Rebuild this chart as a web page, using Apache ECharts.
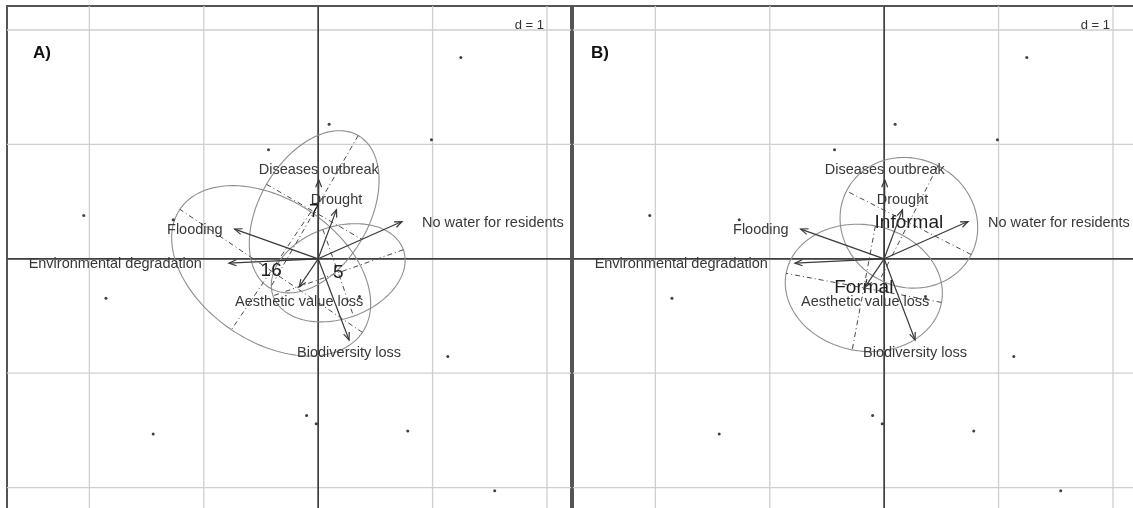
<!DOCTYPE html>
<html>
<head>
<meta charset="utf-8">
<script src="https://cdn.jsdelivr.net/npm/echarts@6/dist/echarts.min.js"></script>
<style>
  html, body { margin: 0; padding: 0; background: #ffffff; }
  #chart { width: 1133px; height: 508px; }
</style>
</head>
<body>
<div id="chart"></div>
<script>
// ---------------- data ----------------
const gridTicks = [-2, -1, 0, 1, 2];

const variableNames = ['Diseases outbreak', 'Drought', 'No water for residents', 'Flooding',
  'Environmental degradation', 'Aesthetic value loss', 'Biodiversity loss'];
const variableX = [0.005, 0.16, 0.733, -0.73, -0.78, -0.166, 0.27];
const variableY = [0.69, 0.43, 0.326, 0.26, -0.038, -0.245, -0.71];

const siteX = [1.247, 0.096, -0.434, 0.990, -2.049, -1.855, 1.133, -0.101, -0.017, -1.442, 0.783, 1.543, -1.267, 0.361];
const siteY = [1.760, 1.177, 0.953, 1.040, 0.378, -0.344, -0.854, -1.370, -1.442, -1.532, -1.506, -2.028, 0.341, -0.330];

// panel A groups: centre, semi-axes, orientation of the major axis (degrees)
const groupsA = ['16', '5', '7'];
const groupsA_cx = [-0.411, 0.175, -0.035];
const groupsA_cy = [-0.105, -0.122, 0.411];
const groupsA_a = [0.962, 0.604, 0.770];
const groupsA_b = [0.621, 0.402, 0.481];
const groupsA_angle = [-34, 19.5, 60];

// panel B groups
const groupsB = ['Informal', 'Formal'];
const groupsB_cx = [0.216, -0.178];
const groupsB_cy = [0.315, -0.254];
const groupsB_a = [0.612, 0.691];
const groupsB_b = [0.560, 0.551];
const groupsB_angle = [-27, -10.6];

const panelTitles = ['A)', 'B)'];
const scaleLabel = 'd = 1';

// ---------------- layout ----------------
const UNIT = 114.4;                       // pixels per unit on both axes
const AX_MIN = -2.72, AX_MAX = 2.21;
const PANEL_W = 564;
const PANEL_H = 504;                      // the panels run past the bottom edge of the page
const Y_MIN = AX_MAX - PANEL_H / UNIT;
const panelLeft = [7, 573];
const panelTop = 6;
const titleLeft = [33, 591];
const labelGap = [10, 10, 20, 12, 27, 15, 13];   // distance of each variable label from its arrow tip (px)
const FONT = "'Liberation Sans', Arial, sans-serif";

const chart = echarts.init(document.getElementById('chart'), null, { renderer: 'canvas' });

function gridRender(params, api) {
  const t = api.value(0);
  const cs = params.coordSys;
  const v0 = api.coord([t, AX_MAX]);
  const h0 = api.coord([AX_MIN, t]);
  return {
    type: 'group',
    children: [
      { type: 'line', shape: { x1: v0[0], y1: cs.y, x2: v0[0], y2: cs.y + cs.height },
        style: { stroke: '#cfcfcf', lineWidth: 1.3 } },
      { type: 'line', shape: { x1: cs.x, y1: h0[1], x2: cs.x + cs.width, y2: h0[1] },
        style: { stroke: '#cfcfcf', lineWidth: 1.3 } }
    ]
  };
}

function axesRender(params, api) {
  const cs = params.coordSys;
  const o = api.coord([0, 0]);
  return {
    type: 'group',
    children: [
      { type: 'line', shape: { x1: o[0], y1: cs.y, x2: o[0], y2: cs.y + cs.height },
        style: { stroke: '#404040', lineWidth: 1.7 } },
      { type: 'line', shape: { x1: cs.x, y1: o[1], x2: cs.x + cs.width, y2: o[1] },
        style: { stroke: '#404040', lineWidth: 1.7 } }
    ]
  };
}

function makeEllipseRender(names) {
  return function (params, api) {
    const cx = api.value(0), cy = api.value(1), a = api.value(2), b = api.value(3);
    const ang = api.value(4) * Math.PI / 180;
    const ca = Math.cos(ang), sa = Math.sin(ang);
    const pts = [];
    for (let k = 0; k <= 160; k++) {
      const t = k / 160 * 2 * Math.PI;
      const ex = a * Math.cos(t), ey = b * Math.sin(t);
      pts.push(api.coord([cx + ex * ca - ey * sa, cy + ex * sa + ey * ca]));
    }
    const m1 = api.coord([cx + a * ca, cy + a * sa]);
    const m2 = api.coord([cx - a * ca, cy - a * sa]);
    const n1 = api.coord([cx - b * sa, cy + b * ca]);
    const n2 = api.coord([cx + b * sa, cy - b * ca]);
    const c = api.coord([cx, cy]);
    const dash = { stroke: '#4a4a4a', lineWidth: 1, lineDash: [5, 3, 1, 3] };
    return {
      type: 'group',
      children: [
        { type: 'polyline', shape: { points: pts }, style: { stroke: '#8e8e8e', lineWidth: 1.1, fill: null } },
        { type: 'line', shape: { x1: m1[0], y1: m1[1], x2: m2[0], y2: m2[1] }, style: dash },
        { type: 'line', shape: { x1: n1[0], y1: n1[1], x2: n2[0], y2: n2[1] }, style: dash },
        { type: 'text', z2: 10, style: { text: names[params.dataIndex], x: c[0], y: c[1],
          align: 'center', verticalAlign: 'middle', fontSize: 19, fontFamily: FONT, fill: '#1e1e1e' } }
      ]
    };
  };
}

function arrowRender(params, api) {
  const i = params.dataIndex;
  const o = api.coord([0, 0]);
  const p = api.coord([api.value(0), api.value(1)]);
  const dx = p[0] - o[0], dy = p[1] - o[1];
  const len = Math.hypot(dx, dy);
  const ux = dx / len, uy = dy / len;
  const hl = 8, ha = 22 * Math.PI / 180;
  const c = Math.cos(ha), s = Math.sin(ha);
  const h1 = [p[0] - hl * (ux * c - uy * s), p[1] - hl * (ux * s + uy * c)];
  const h2 = [p[0] - hl * (ux * c + uy * s), p[1] - hl * (-ux * s + uy * c)];
  const gap = labelGap[i];
  let tx, ty, align;
  if (Math.abs(dx) >= Math.abs(dy)) {
    align = dx > 0 ? 'left' : 'right';
    tx = p[0] + (dx > 0 ? gap : -gap);
    ty = p[1] + 1;
  } else {
    align = 'center';
    tx = p[0];
    ty = p[1] + (dy < 0 ? -gap : gap);
  }
  const st = { stroke: '#3a3a3a', lineWidth: 1.2 };
  return {
    type: 'group',
    children: [
      { type: 'line', shape: { x1: o[0], y1: o[1], x2: p[0], y2: p[1] }, style: st },
      { type: 'polyline', shape: { points: [h1, p, h2] }, style: Object.assign({ fill: null }, st) },
      { type: 'text', style: { text: variableNames[i], x: tx, y: ty, align: align, verticalAlign: 'middle',
        fontSize: 14.5, fontFamily: FONT, fill: '#383838' } }
    ]
  };
}

const tickData = gridTicks.map(t => [t, t]);
const arrowData = variableX.map((x, i) => [x, variableY[i]]);
const siteData = siteX.map((x, i) => [x, siteY[i]]);
const groupDataA = groupsA.map((g, i) => [groupsA_cx[i], groupsA_cy[i], groupsA_a[i], groupsA_b[i], groupsA_angle[i]]);
const groupDataB = groupsB.map((g, i) => [groupsB_cx[i], groupsB_cy[i], groupsB_a[i], groupsB_b[i], groupsB_angle[i]]);

const grids = [], xAxes = [], yAxes = [], series = [], graphics = [];
[0, 1].forEach(p => {
  grids.push({ left: panelLeft[p], top: panelTop, width: PANEL_W, height: PANEL_H,
    outerBoundsMode: 'none', containLabel: false,
    show: true, borderColor: '#555555', borderWidth: 2, backgroundColor: '#ffffff' });
  xAxes.push({ gridIndex: p, type: 'value', min: AX_MIN, max: AX_MAX, show: false });
  yAxes.push({ gridIndex: p, type: 'value', min: Y_MIN, max: AX_MAX, show: false });
  const base = { xAxisIndex: p, yAxisIndex: p, silent: true, animation: false };
  series.push(Object.assign({ type: 'custom', z: 1, renderItem: gridRender, data: tickData, encode: { x: 0, y: 1 } }, base));
  series.push(Object.assign({ type: 'custom', z: 2, renderItem: axesRender, data: [[0, 0]], encode: { x: 0, y: 1 } }, base));
  series.push(Object.assign({ type: 'custom', z: 3, renderItem: makeEllipseRender(p === 0 ? groupsA : groupsB),
    data: p === 0 ? groupDataA : groupDataB, encode: { x: 0, y: 1 } }, base));
  series.push(Object.assign({ type: 'scatter', z: 4, symbolSize: 3, itemStyle: { color: '#111111' }, data: siteData }, base));
  series.push(Object.assign({ type: 'custom', z: 5, renderItem: arrowRender, data: arrowData, encode: { x: 0, y: 1 } }, base));

  graphics.push({ type: 'text', left: titleLeft[p], top: 45, z: 100,
    style: { text: panelTitles[p], fontSize: 17, fontWeight: 'bold', fontFamily: FONT, fill: '#111111' } });
  graphics.push({ type: 'text', x: panelLeft[p] + 537, y: 25, z: 100,
    style: { text: scaleLabel, fontSize: 13, fontFamily: FONT, fill: '#333333', align: 'right', verticalAlign: 'middle' } });
});

chart.setOption({
  animation: false,
  backgroundColor: '#ffffff',
  grid: grids,
  xAxis: xAxes,
  yAxis: yAxes,
  series: series,
  graphic: graphics
});
</script>
</body>
</html>
